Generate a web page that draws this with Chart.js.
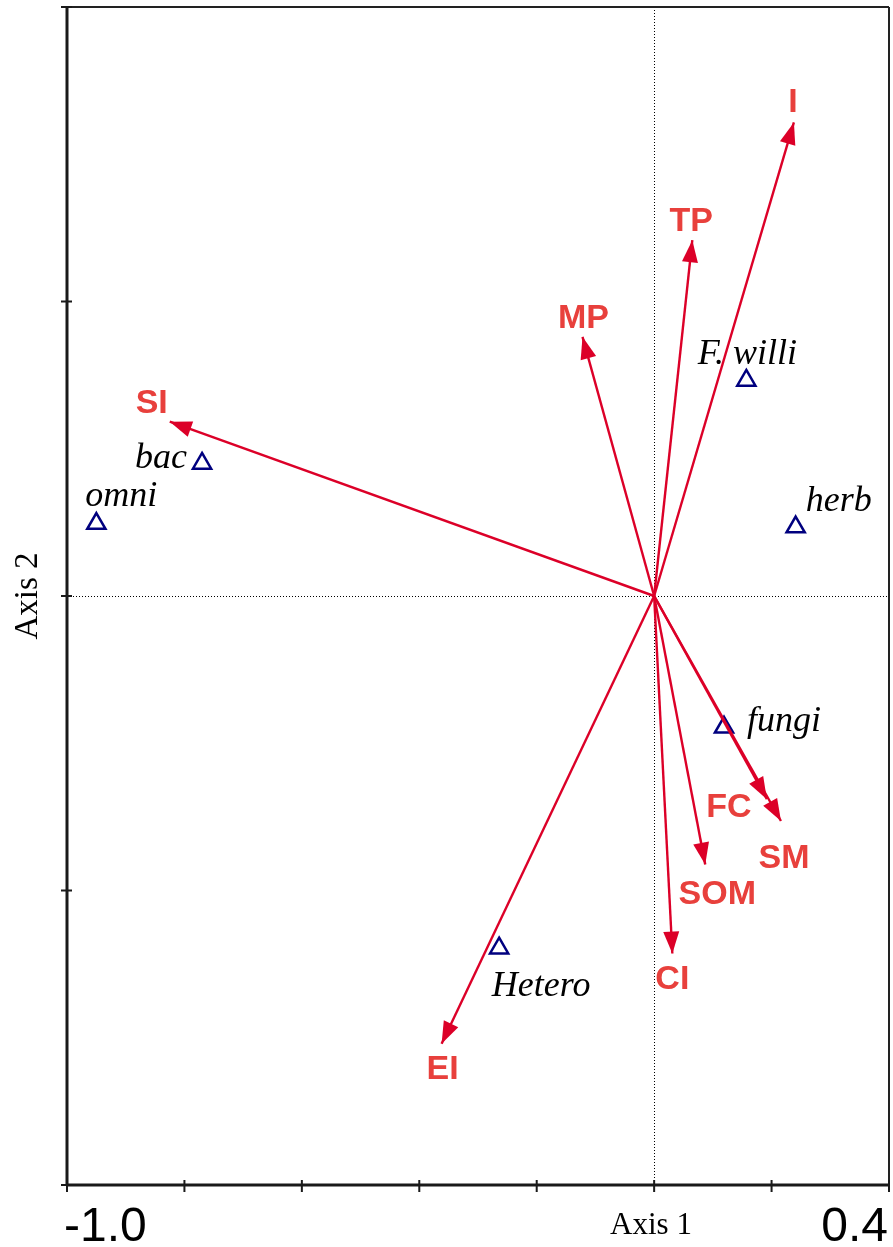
<!DOCTYPE html>
<html>
<head>
<meta charset="utf-8">
<script src="https://cdn.jsdelivr.net/npm/chart.js@4.4.1/dist/chart.umd.min.js"></script>
<style>
html,body{margin:0;padding:0;background:#fff;}
#wrap{width:893px;height:1247px;}
</style>
</head>
<body>
<div id="wrap"><canvas id="biplot" width="893" height="1247"></canvas></div>
<script>
//Environmental vectors (arrow tips)
var envNames = ["I","TP","MP","SI","EI","CI","SOM","SM","FC"];
var envX = [0.238, 0.065, -0.122, -0.825, -0.362, 0.031, 0.087, 0.216, 0.192];
var envY = [0.804, 0.604, 0.440, 0.296, -0.760, -0.607, -0.456, -0.382, -0.345];
//Species scores
var spNames = ["F. willi","herb","fungi","Hetero","bac","omni"];
var spX = [0.157, 0.241, 0.119, -0.264, -0.770, -0.950];
var spY = [0.366, 0.117, -0.223, -0.598, 0.225, 0.123];
//Axis
var xTicks = [-1.0, -0.8, -0.6, -0.4, -0.2, 0.0, 0.2, 0.4];
var yTicks = [-1.0, -0.5, 0.0, 0.5, 1.0];
var xEndLabels = ["-1.0","0.4"];

//label offsets in px from the mark (text baseline)
var envOff = [[-1,-10],[-1,-9],[1,-9],[-18,-9],[1,35],[0,35],[12,39],[3,47],[-38,18]];
var spOff = [[1,-16],[43,-16],[60,4],[42,48],[-41,5],[25,-18]];

var arrowRed = "#dc0028";
var labelRed = "#e8403c";

var datasets = [];
for(i=0;i<envNames.length;++i){
	datasets.push({
		label:envNames[i],
		data:[{x:0,y:0},{x:envX[i],y:envY[i]}],
		showLine:true,
		borderColor:arrowRed,
		borderWidth:2.4,
		pointRadius:0,
		fill:false
	});
}
datasets.push({
	label:"species",
	data:spX.map(function(v,i){return {x:v,y:spY[i]};}),
	pointStyle:"triangle",
	pointRadius:10.5,
	borderColor:"#00007f",
	borderWidth:2.5,
	backgroundColor:"rgba(255,255,255,0)"
});

var framePlugin = {
	id:"frame",
	beforeDatasetsDraw:function(chart){
		var ctx = chart.ctx, a = chart.chartArea;
		var xs = chart.scales.x, ys = chart.scales.y;
		ctx.save();
		//zero lines
		ctx.strokeStyle = "#000";
		ctx.lineWidth = 1;
		ctx.setLineDash([1,2]);
		var x0 = Math.round(xs.getPixelForValue(0))+0.5;
		var y0 = Math.round(ys.getPixelForValue(0))+0.5;
		ctx.beginPath();
		ctx.moveTo(x0,a.top); ctx.lineTo(x0,a.bottom);
		ctx.moveTo(a.left,y0); ctx.lineTo(a.right,y0);
		ctx.stroke();
		ctx.setLineDash([]);
		//top + right frame
		ctx.strokeStyle = "#222";
		ctx.lineWidth = 2;
		ctx.beginPath();
		ctx.moveTo(a.left-6,a.top); ctx.lineTo(a.right,a.top);
		ctx.moveTo(a.right,a.top); ctx.lineTo(a.right,a.bottom+6);
		ctx.stroke();
		//left + bottom axes
		ctx.strokeStyle = "#1a1a1a";
		ctx.lineWidth = 3;
		ctx.beginPath();
		ctx.moveTo(a.left,a.top); ctx.lineTo(a.left,a.bottom);
		ctx.moveTo(a.left,a.bottom); ctx.lineTo(a.right,a.bottom);
		ctx.stroke();
		ctx.lineWidth = 2;
		ctx.beginPath();
		xTicks.forEach(function(t){
			var px = xs.getPixelForValue(t);
			ctx.moveTo(px,a.bottom-5); ctx.lineTo(px,a.bottom+7);
		});
		yTicks.forEach(function(t){
			var py = ys.getPixelForValue(t);
			ctx.moveTo(a.left-6,py); ctx.lineTo(a.left+5,py);
		});
		ctx.stroke();
		//axis texts
		ctx.fillStyle = "#000";
		ctx.font = "48px 'Liberation Sans', Arial, sans-serif";
		ctx.textBaseline = "alphabetic";
		ctx.textAlign = "left";
		ctx.fillText(xEndLabels[0],a.left-3,1241);
		ctx.textAlign = "right";
		ctx.fillText(xEndLabels[1],a.right-1,1241);
		ctx.font = "31px 'Liberation Serif', 'Times New Roman', serif";
		ctx.textAlign = "center";
		ctx.fillText("Axis 1",651,1234);
		ctx.save();
		ctx.translate(37,596);
		ctx.rotate(-Math.PI/2);
		ctx.font = "33px 'Liberation Serif', 'Times New Roman', serif";
		ctx.fillText("Axis 2",0,0);
		ctx.restore();
		ctx.restore();
	},
	afterDatasetsDraw:function(chart){
		var ctx = chart.ctx;
		var xs = chart.scales.x, ys = chart.scales.y;
		ctx.save();
		//arrow heads
		ctx.fillStyle = arrowRed;
		for(i=0;i<envNames.length;++i){
			var ox = xs.getPixelForValue(0), oy = ys.getPixelForValue(0);
			var tx = xs.getPixelForValue(envX[i]), ty = ys.getPixelForValue(envY[i]);
			var ang = Math.atan2(ty-oy,tx-ox);
			var len = 22, hw = 8;
			ctx.beginPath();
			ctx.moveTo(tx,ty);
			ctx.lineTo(tx-len*Math.cos(ang)+hw*Math.sin(ang),ty-len*Math.sin(ang)-hw*Math.cos(ang));
			ctx.lineTo(tx-len*Math.cos(ang)-hw*Math.sin(ang),ty-len*Math.sin(ang)+hw*Math.cos(ang));
			ctx.closePath();
			ctx.fill();
		}
		//env labels
		ctx.textAlign = "center";
		ctx.textBaseline = "alphabetic";
		ctx.font = "bold 34px 'Liberation Sans', Arial, sans-serif";
		ctx.fillStyle = labelRed;
		for(i=0;i<envNames.length;++i){
			ctx.fillText(envNames[i],xs.getPixelForValue(envX[i])+envOff[i][0],ys.getPixelForValue(envY[i])+envOff[i][1]);
		}
		//species labels
		ctx.font = "italic 36px 'Liberation Serif', 'Times New Roman', serif";
		ctx.fillStyle = "#000";
		for(i=0;i<spNames.length;++i){
			ctx.fillText(spNames[i],xs.getPixelForValue(spX[i])+spOff[i][0],ys.getPixelForValue(spY[i])+spOff[i][1]);
		}
		ctx.restore();
	}
};

var biplot = new Chart(document.getElementById("biplot"),{
	type:"scatter",
	data:{datasets:datasets},
	options:{
		responsive:false,
		animation:false,
		layout:{autoPadding:false,padding:{left:67,top:7,right:4,bottom:62}},
		plugins:{legend:{display:false},tooltip:{enabled:false}},
		scales:{
			x:{type:"linear",min:-1.0,max:0.4,display:false},
			y:{type:"linear",min:-1.0,max:1.0,display:false}
		}
	},
	plugins:[framePlugin]
});
</script>
</body>
</html>
